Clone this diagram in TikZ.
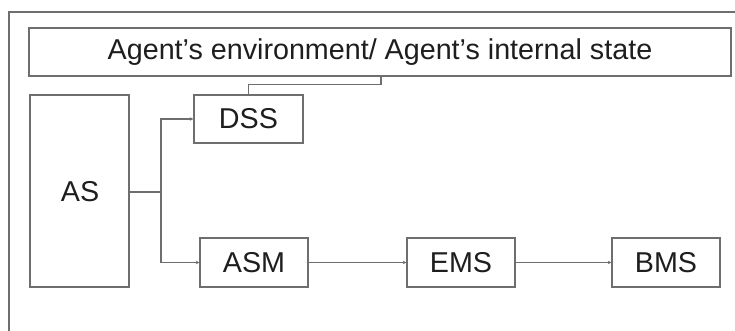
\documentclass[tikz,border=0pt]{standalone}
\usepackage{fontspec}
\setmainfont{Liberation Sans}
\usetikzlibrary{arrows.meta}
\definecolor{linegray}{HTML}{6E6E6E}
\definecolor{textgray}{HTML}{1E1E1E}
\begin{document}
\begin{tikzpicture}[x=1pt,y=-1pt,
  box/.style={draw=linegray,line width=1.4pt,rectangle,inner sep=0pt,
    text=textgray,font=\fontsize{28.7}{33}\selectfont},
  link/.style={draw=linegray,line width=1.3pt},
  arr/.style={link,-{Stealth[length=3.5pt,width=3.5pt]}}]
\useasboundingbox (0,0) rectangle (735,331);
\fill[white] (0,0) rectangle (735,331);
% outer frame (top and left edges)
\draw[linegray,line width=1.6pt] (735,12) -- (9,12) -- (9,331);
% boxes
\node[box,minimum width=702pt,minimum height=48pt] (env) at (380,52)
  {Agent’s environment/ Agent’s internal state};
\node[box,minimum width=99pt,minimum height=192pt] (as) at (79.5,191) {};
\node[text=textgray,font=\fontsize{28.7}{33}\selectfont] (aslabel) at (80,192) {AS};
\node[box,minimum width=109pt,minimum height=48pt] (dss) at (248.5,119) {DSS};
\node[box,minimum width=108pt,minimum height=49pt] (asm) at (254,262.5) {ASM};
\node[box,minimum width=108pt,minimum height=49pt] (ems) at (461,262.5) {EMS};
\node[box,minimum width=108pt,minimum height=49pt] (bms) at (666,262.5) {BMS};
% branch junction
\coordinate (jn) at (161,192);
\draw[link] (as.east |- jn) -- (jn);
\draw[arr] (jn) |- (dss.west);
\draw[arr] (jn) |- (asm.west);
\draw[arr] (asm.east) -- (ems.west);
\draw[arr] (ems.east) -- (bms.west);
% feedback from DSS to the environment
\draw[link] (dss.north) -- ++(0,-10) -| (381,76);
\end{tikzpicture}
\end{document}
